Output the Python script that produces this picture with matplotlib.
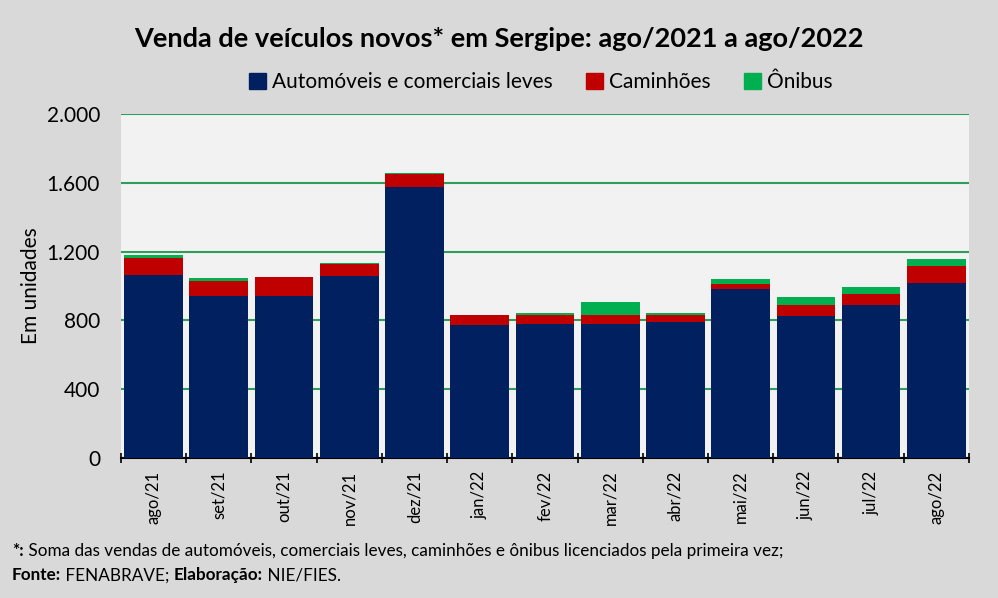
import numpy as np
import matplotlib
matplotlib.use('Agg')
import matplotlib.pyplot as plt
from matplotlib.patches import Patch

plt.rcParams['font.family'] = ['Lato', 'DejaVu Sans']

# dados
meses = ['ago/21', 'set/21', 'out/21', 'nov/21', 'dez/21', 'jan/22', 'fev/22',
         'mar/22', 'abr/22', 'mai/22', 'jun/22', 'jul/22', 'ago/22']
automoveis = [1066, 944, 944, 1060, 1576, 775, 779, 780, 791, 981, 826, 890, 1017]
caminhoes = [99, 87, 106, 68, 77, 56, 54, 51, 42, 31, 64, 63, 99]
onibus = [15, 16, 4, 4, 4, 3, 12, 76, 10, 29, 46, 41, 41]
yticks = [0, 400, 800, 1200, 1600, 2000]
ytick_labels = ['0', '400', '800', '1.200', '1.600', '2.000']

azul = '#002060'
vermelho = '#C00000'
verde = '#00B050'

fig = plt.figure(figsize=(9.98, 5.98), dpi=100, facecolor='#D9D9D9')
ax = fig.add_axes([0.1212, 0.2341, 0.8497, 0.5753], facecolor='#F2F2F2')

x = np.arange(len(meses))
auto = np.array(automoveis)
cam = np.array(caminhoes)
oni = np.array(onibus)
ax.bar(x, auto, width=0.9, color=azul, zorder=3)
ax.bar(x, cam, width=0.9, bottom=auto, color=vermelho, zorder=3)
ax.bar(x, oni, width=0.9, bottom=auto + cam, color=verde, zorder=3)

ax.set_xlim(-0.5, len(meses) - 0.5)
ax.set_ylim(0, 2000)
ax.set_yticks(yticks)
ax.set_yticklabels(ytick_labels, fontsize=15)
ax.yaxis.grid(True, color='#2E9E5B', linewidth=1.5, zorder=1)
ax.tick_params(axis='y', length=0, pad=15)

# rótulos do eixo x entre as marcas (estilo Excel)
ax.set_xticks(x)
ax.set_xticklabels(meses, rotation=90, fontsize=12)
ax.tick_params(axis='x', length=0, pad=9)
ax.set_xticks(np.arange(-0.5, len(meses)), minor=True)
ax.tick_params(axis='x', which='minor', length=7, width=1.2, direction='inout', color='black')

for s in ['top', 'right', 'left']:
    ax.spines[s].set_visible(False)
ax.spines['bottom'].set_linewidth(1.5)

ax.set_ylabel('Em unidades', fontsize=15)
ax.yaxis.set_label_coords(-0.094, 0.5)

fig.text(0.5, 0.935, 'Venda de veículos novos* em Sergipe: ago/2021 a ago/2022',
         ha='center', va='center', fontsize=19.5, fontweight='bold')

handles = [Patch(color=azul, label='Automóveis e comerciais leves'),
           Patch(color=vermelho, label='Caminhões'),
           Patch(color=verde, label='Ônibus')]
fig.legend(handles=handles, loc='center', bbox_to_anchor=(0.542, 0.863), ncol=3,
           frameon=False, fontsize=15, handlelength=0.8, handleheight=0.8,
           handletextpad=0.3, columnspacing=1.6)

# notas de rodapé com partes em negrito
fs = 12.3
t1 = fig.text(0.012, 0.079, '*:', fontsize=fs, fontweight='bold', va='center')
ax.annotate(' Soma das vendas de automóveis, comerciais leves, caminhões e ônibus licenciados pela primeira vez;',
            xy=(1, 0), xycoords=t1, va='bottom', fontsize=fs)
t2 = fig.text(0.012, 0.038, 'Fonte:', fontsize=fs, fontweight='bold', va='center')
t3 = ax.annotate(' FENABRAVE; ', xy=(1, 0), xycoords=t2, va='bottom', fontsize=fs)
t4 = ax.annotate('Elaboração:', xy=(1, 0), xycoords=t3, va='bottom', fontsize=fs, fontweight='bold')
ax.annotate(' NIE/FIES.', xy=(1, 0), xycoords=t4, va='bottom', fontsize=fs)

fig.savefig('out.png', dpi=100, facecolor=fig.get_facecolor())
